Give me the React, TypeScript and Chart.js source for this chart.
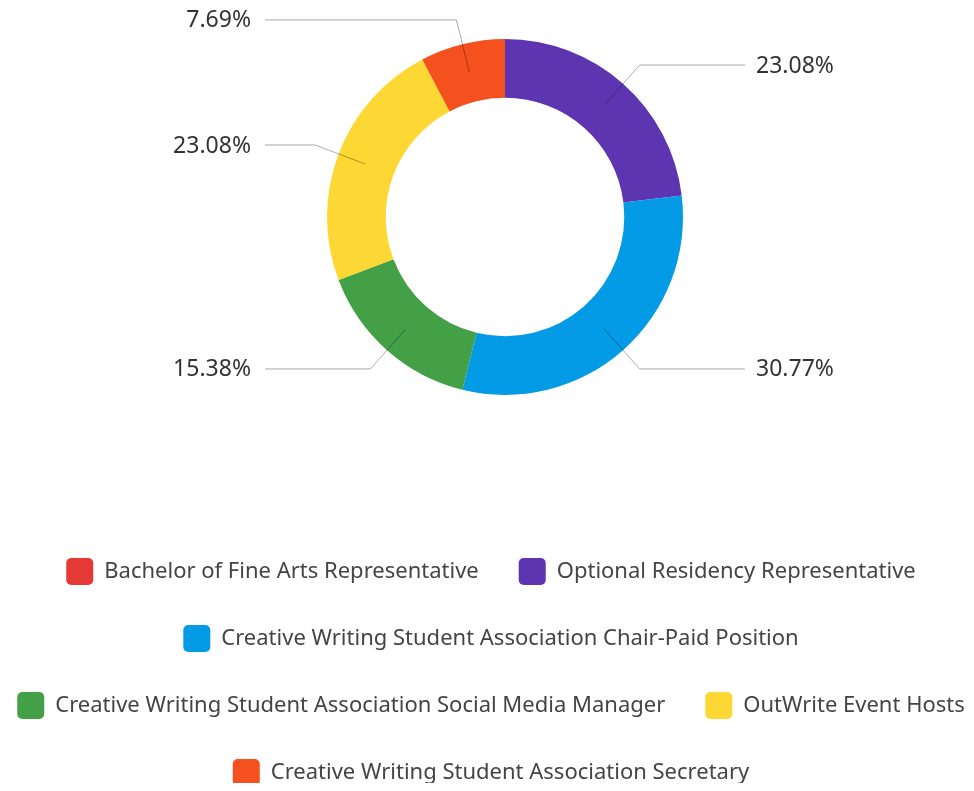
import { useEffect, useRef } from 'react';
import { Chart, registerables } from 'chart.js';

Chart.register(...registerables);

const categories = [
  'Bachelor of Fine Arts Representative',
  'Optional Residency Representative',
  'Creative Writing Student Association Chair-Paid Position',
  'Creative Writing Student Association Social Media Manager',
  'OutWrite Event Hosts',
  'Creative Writing Student Association Secretary',
];
const responses = [0, 3, 4, 2, 3, 1];
const sliceColors = ['#E53935', '#5E35B1', '#039BE5', '#43A047', '#FDD835', '#F4511E'];

const FONT = "'Noto Sans', 'Open Sans', sans-serif";

const leaderLabels = {
  id: 'leaderLabels',
  afterDatasetsDraw(chart: any) {
    const { ctx } = chart;
    const meta = chart.getDatasetMeta(0);
    const values = chart.data.datasets[0].data as number[];
    const total = values.reduce((a, b) => a + b, 0);
    ctx.save();
    meta.data.forEach((arc: any, i: number) => {
      const v = values[i];
      if (!v) return;
      const { x, y, startAngle, endAngle, innerRadius, outerRadius } = arc.getProps(
        ['x', 'y', 'startAngle', 'endAngle', 'innerRadius', 'outerRadius'],
        true
      );
      const mid = (startAngle + endAngle) / 2;
      const cos = Math.cos(mid);
      const sin = Math.sin(mid);
      const r1 = (innerRadius + outerRadius) / 2 + 1;
      const r2 = outerRadius + 25;
      const x1 = x + cos * r1;
      const y1 = y + sin * r1;
      const x2 = x + cos * r2;
      const y2 = y + sin * r2;
      const right = cos >= 0;
      const x3 = right ? x + 240 : x - 240;
      ctx.beginPath();
      ctx.moveTo(x1, y1);
      ctx.lineTo(x2, y2);
      ctx.lineTo(x3, y2);
      ctx.strokeStyle = 'rgba(0,0,0,0.33)';
      ctx.lineWidth = 1;
      ctx.stroke();
      ctx.font = `23px ${FONT}`;
      ctx.fillStyle = '#333';
      ctx.textBaseline = 'middle';
      ctx.textAlign = right ? 'left' : 'right';
      ctx.fillText(((v / total) * 100).toFixed(2) + '%', right ? x3 + 11 : x3 - 14, y2 + 1);
    });
    ctx.restore();
  },
};

export default function App() {
  const ref = useRef<HTMLCanvasElement>(null);
  useEffect(() => {
    const chart = new Chart(ref.current!, {
      type: 'doughnut',
      data: {
        labels: categories,
        datasets: [
          {
            data: responses,
            backgroundColor: sliceColors,
            borderWidth: 0,
            radius: 178,
            cutout: '67%',
          } as any,
        ],
      },
      options: {
        responsive: false,
        animation: false,
        plugins: {
          legend: {
            position: 'bottom',
            labels: {
              boxWidth: 27,
              boxHeight: 27,
              useBorderRadius: true,
              borderRadius: 5,
              padding: 40,
              color: '#444',
              font: { family: FONT, size: 22 },
            },
          } as any,
          title: {
            display: true,
            position: 'bottom',
            weight: 500,
            text: '',
            font: { size: 10 },
            padding: { top: 80, bottom: 0 },
          } as any,
          subtitle: {
            display: true,
            position: 'left',
            fullSize: false,
            text: '',
            font: { size: 10 },
            padding: { top: 16, bottom: 0 },
          } as any,
          tooltip: { enabled: false },
        },
      },
      plugins: [leaderLabels],
    });
    return () => chart.destroy();
  }, []);
  return (
    <div style={{ margin: -8, width: 974, height: 791, overflow: 'hidden', position: 'relative' }}>
      <canvas
        ref={ref}
        width={1046}
        height={788}
        style={{ position: 'absolute', left: -32, top: 8, width: 1046, height: 788 }}
      />
    </div>
  );
}
